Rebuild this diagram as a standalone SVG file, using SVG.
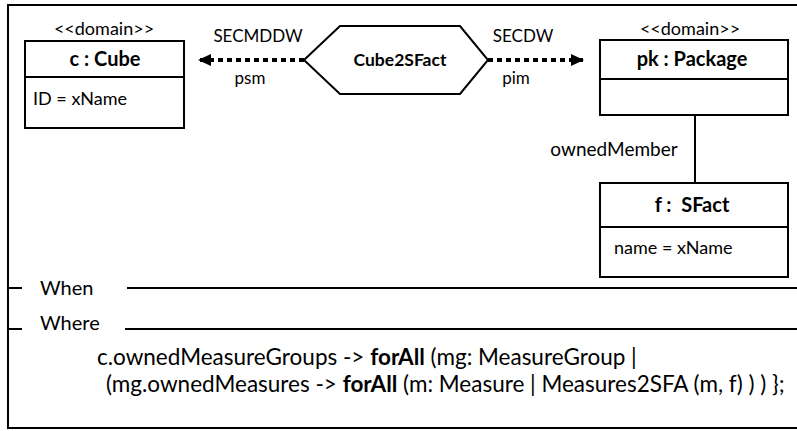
<svg xmlns="http://www.w3.org/2000/svg" width="797" height="431" viewBox="0 0 797 431">
  <style>
    text { font-family: Lato, "Open Sans", "Liberation Sans", sans-serif; fill: #000; }
    .stereo { font-size: 18px; text-anchor: middle; }
    .title { font-size: 20px; font-weight: bold; text-anchor: middle; }
    .attr { font-size: 18px; }
    .lbl { font-size: 17px; text-anchor: middle; }
    .sect { font-size: 20px; }
    .code { font-size: 22.5px; }
    .box { fill: #fff; stroke: #000; stroke-width: 2; }
    .rule { stroke: #000; stroke-width: 2; fill: none; }
    .dotted { stroke: #000; stroke-width: 4; stroke-dasharray: 5 4; fill: none; }
  </style>
  <defs>
    <marker id="head" markerWidth="14" markerHeight="14" refX="13" refY="6" orient="auto" markerUnits="userSpaceOnUse">
      <path d="M0,0 L13,6 L0,12 Z" fill="#000"/>
    </marker>
  </defs>

  <!-- outer frame and section rules -->
  <g id="frame">
    <path class="rule" d="M797,5 H8 V428 H797"/>
    <line class="rule" x1="8" y1="288" x2="22" y2="288"/>
    <text class="sect" x="40" y="295">When</text>
    <line class="rule" x1="127" y1="288" x2="797" y2="288"/>
    <line class="rule" x1="8" y1="329" x2="22" y2="329"/>
    <text class="sect" x="40" y="330">Where</text>
    <line class="rule" x1="125" y1="329" x2="797" y2="329"/>
  </g>

  <!-- connectors -->
  <g id="connectors">
    <line class="dotted" x1="304" y1="60" x2="198" y2="60" marker-end="url(#head)"/>
    <text class="lbl" x="258" y="42">SECMDDW</text>
    <text class="lbl" x="250" y="84">psm</text>
    <line class="dotted" x1="488" y1="60" x2="584" y2="60" marker-end="url(#head)"/>
    <text class="lbl" x="523" y="42">SECDW</text>
    <text class="lbl" x="516" y="84">pim</text>
    <line class="rule" x1="695" y1="115" x2="695" y2="183"/>
    <text class="stereo" x="614" y="156" style="font-size:19px">ownedMember</text>
  </g>

  <!-- relation -->
  <g id="cube2sfact">
    <polygon class="box" points="304,60 340,26 460,26 488,60 460,94 340,94"/>
    <text class="title" x="400" y="66" style="font-size:17.5px">Cube2SFact</text>
  </g>

  <!-- c : Cube -->
  <g id="cube">
    <text class="stereo" x="104" y="35">&lt;&lt;domain&gt;&gt;</text>
    <rect class="box" x="25" y="41" width="159" height="87"/>
    <line class="rule" x1="25" y1="77" x2="184" y2="77"/>
    <text class="title" x="105" y="66">c : Cube</text>
    <text class="attr" x="33" y="105">ID = xName</text>
  </g>

  <!-- pk : Package -->
  <g id="package">
    <text class="stereo" x="690" y="35">&lt;&lt;domain&gt;&gt;</text>
    <rect class="box" x="600" y="40" width="188" height="75"/>
    <line class="rule" x1="600" y1="79" x2="788" y2="79"/>
    <text class="title" x="692" y="66">pk : Package</text>
  </g>

  <!-- f : SFact -->
  <g id="sfact">
    <rect class="box" x="600" y="183" width="188" height="94"/>
    <line class="rule" x1="600" y1="227" x2="788" y2="227"/>
    <text class="title" x="692" y="212" xml:space="preserve">f :  SFact</text>
    <text class="attr" x="614" y="254">name = xName</text>
  </g>

  <!-- where clause -->
  <g id="where-clause">
    <text class="code" x="97" y="365">c.ownedMeasureGroups -&gt; <tspan font-weight="bold">forAll</tspan> (mg: MeasureGroup |</text>
    <text class="code" x="106" y="392">(mg.ownedMeasures -&gt; <tspan font-weight="bold">forAll</tspan> (m: Measure | Measures2SFA (m, f) ) ) };</text>
  </g>
</svg>
